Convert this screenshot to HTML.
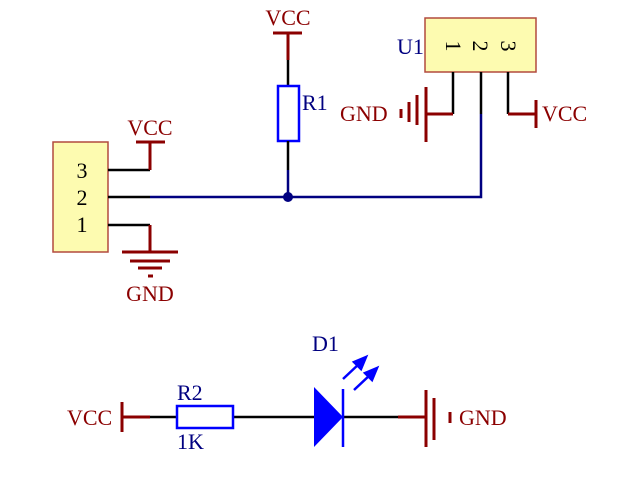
<!DOCTYPE html>
<html><head><style>body{margin:0;background:#fff}</style></head><body>
<svg width="633" height="479" xmlns="http://www.w3.org/2000/svg" font-family="Liberation Serif, serif" font-size="22">
<rect width="633" height="479" fill="#fff"/>
<!-- U1 -->
<rect x="425" y="18" width="111" height="54" fill="#fdfbb0" stroke="#b24a3e" stroke-width="1.5"/>
<text x="397" y="54" fill="#000080" font-size="22">U1</text>
<g font-size="22" fill="#000" text-anchor="middle">
<text transform="translate(446,46) rotate(90)">1</text>
<text transform="translate(473,46) rotate(90)">2</text>
<text transform="translate(501,46) rotate(90)">3</text>
</g>
<g stroke="#000" stroke-width="2.5" fill="none">
<polyline points="453,72 453,114"/>
<polyline points="481,72 481,114"/>
<polyline points="508,72 508,114"/>
</g>
<g stroke="#8b0000" stroke-width="3" fill="none">
<line x1="453" y1="114" x2="426" y2="114"/>
<line x1="426" y1="87" x2="426" y2="142"/>
<line x1="417" y1="95" x2="417" y2="125"/>
<line x1="409" y1="102" x2="409" y2="122"/>
<line x1="401" y1="109" x2="401" y2="118"/>
<line x1="508" y1="114" x2="536" y2="114"/>
<line x1="536" y1="100" x2="536" y2="128"/>
</g>
<text x="340" y="121" fill="#8b0000">GND</text>
<text x="542" y="121" fill="#8b0000">VCC</text>
<!-- blue net -->
<polyline points="481,114 481,197 150,197" stroke="#000080" stroke-width="2.5" fill="none"/>
<circle cx="288" cy="197" r="5" fill="#000080"/>
<!-- R1 -->
<text x="288" y="25" fill="#8b0000" text-anchor="middle">VCC</text>
<line x1="273" y1="33" x2="302" y2="33" stroke="#8b0000" stroke-width="3"/>
<line x1="288" y1="33" x2="288" y2="60" stroke="#8b0000" stroke-width="3"/>
<line x1="288" y1="60" x2="288" y2="86" stroke="#000" stroke-width="2.5"/>
<rect x="278" y="86" width="21" height="55" fill="#fff" stroke="#0000ff" stroke-width="2.5"/>
<line x1="288" y1="141" x2="288" y2="170" stroke="#000" stroke-width="2.5"/>
<line x1="288" y1="170" x2="288" y2="197" stroke="#000080" stroke-width="2.5"/>
<text x="302" y="110" fill="#000080">R1</text>
<!-- connector -->
<rect x="53" y="142" width="55" height="110" fill="#fdfbb0" stroke="#b24a3e" stroke-width="1.5"/>
<g fill="#000" text-anchor="middle">
<text x="82" y="178">3</text><text x="82" y="205">2</text><text x="82" y="232">1</text>
</g>
<g stroke="#000" stroke-width="2.5">
<line x1="108" y1="170" x2="150" y2="170"/>
<line x1="108" y1="197" x2="150" y2="197"/>
<line x1="108" y1="225" x2="150" y2="225"/>
</g>
<g stroke="#8b0000" stroke-width="3">
<line x1="150" y1="170" x2="150" y2="142"/>
<line x1="136" y1="142" x2="165" y2="142"/>
<line x1="150" y1="225" x2="150" y2="252"/>
<line x1="122" y1="252" x2="178" y2="252"/>
<line x1="130" y1="261" x2="170" y2="261"/>
<line x1="138" y1="268" x2="162" y2="268"/>
<line x1="148" y1="276" x2="153" y2="276"/>
</g>
<text x="150" y="135" fill="#8b0000" text-anchor="middle">VCC</text>
<text x="150" y="301" fill="#8b0000" text-anchor="middle">GND</text>
<!-- bottom -->
<text x="67" y="425" fill="#8b0000">VCC</text>
<g stroke="#8b0000" stroke-width="3">
<line x1="122" y1="402" x2="122" y2="432"/>
<line x1="122" y1="417" x2="150" y2="417"/>
<line x1="398" y1="417" x2="426" y2="417"/>
<line x1="426" y1="390" x2="426" y2="447"/>
<line x1="434" y1="398" x2="434" y2="440"/>
<line x1="450" y1="412" x2="450" y2="423"/>
</g>
<g stroke="#000" stroke-width="2.5">
<line x1="150" y1="417" x2="177" y2="417"/>
<line x1="233" y1="417" x2="314" y2="417"/>
<line x1="343" y1="417" x2="398" y2="417"/>
</g>
<rect x="177" y="406" width="56" height="22" fill="#fff" stroke="#0000ff" stroke-width="2.5"/>
<text x="177" y="400" fill="#000080">R2</text>
<text x="177" y="449" fill="#000080">1K</text>
<polygon points="314,387 314,447 343,417" fill="#0000ff"/>
<line x1="343" y1="389" x2="343" y2="447" stroke="#0000ff" stroke-width="2.5"/>
<text x="312" y="351" fill="#000080">D1</text>
<g stroke="#0000ff" stroke-width="2.5" fill="#0000ff">
<line x1="343" y1="379" x2="360" y2="363"/>
<polygon points="366,357 354,362 361,369"/>
<line x1="354" y1="390" x2="371" y2="374"/>
<polygon points="377,368 365,373 372,380"/>
</g>
<text x="459" y="425" fill="#8b0000">GND</text>
</svg>
</body></html>
